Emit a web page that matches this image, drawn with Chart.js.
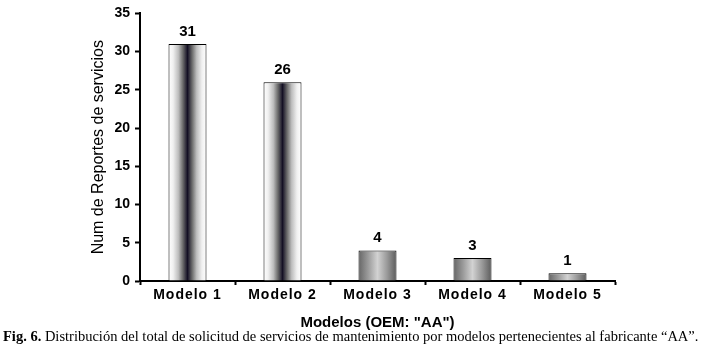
<!DOCTYPE html>
<html>
<head>
<meta charset="utf-8">
<script src="https://cdn.jsdelivr.net/npm/chart.js@4.4.1/dist/chart.umd.min.js"></script>
<style>
  html, body { margin: 0; padding: 0; background: #fff; }
  #wrap { position: relative; width: 704px; height: 353px; }
  #caption {
    position: absolute; left: 3px; top: 329px; white-space: nowrap;
    font: 14.5px "Times New Roman", "Liberation Serif", serif; color: #000; line-height: 15px;
  }
</style>
</head>
<body>
<div id="wrap">
  <canvas id="chart"></canvas>
  <div id="caption"><b>Fig. 6.</b> Distribución del total de solicitud de servicios de mantenimiento por modelos pertenecientes al fabricante “AA”.</div>
</div>
<script>
const categories = ["Modelo 1", "Modelo 2", "Modelo 3", "Modelo 4", "Modelo 5"];
const reportes = [31, 26, 4, 3, 1];
const yTicks = [0, 5, 10, 15, 20, 25, 30, 35];

// fill look per bar: dark centre stripe for the first two, light centre for the rest
const barLook = ["core", "core", "soft", "soft", "soft"];
const gradStops = {
  core: [[0, "#ffffff"], [0.12, "#f0f0f0"], [0.26, "#bdbdbd"], [0.38, "#6a6a6a"], [0.5, "#141024"],
         [0.62, "#6a6a6a"], [0.74, "#bdbdbd"], [0.88, "#f0f0f0"], [1, "#ffffff"]],
  soft: [[0, "#666666"], [0.25, "#9a9a9a"], [0.5, "#d2d2d2"], [0.75, "#9a9a9a"], [1, "#5c5c5c"]],
};
const BAR_FRACTION = 0.4;

Chart.defaults.font.family = "Arial, 'Liberation Sans', sans-serif";
Chart.defaults.color = "#000";

function barFill(context) {
  const chart = context.chart;
  const xs = chart.scales.x;
  if (!xs || context.type !== "data") return "#999";
  const i = context.dataIndex;
  const cx = xs.getPixelForValue(i);
  const half = (xs.width / categories.length) * BAR_FRACTION / 2;
  if (!isFinite(cx) || !isFinite(half) || half <= 0) return "#999";
  const g = chart.ctx.createLinearGradient(cx - half, 0, cx + half, 0);
  gradStops[barLook[i]].forEach(([o, c]) => g.addColorStop(o, c));
  return g;
}

// value labels on top of the bars + letter spacing for the category labels
const valueLabels = {
  id: "valueLabels",
  afterDatasetsDraw(chart) {
    const ctx = chart.ctx;
    const meta = chart.getDatasetMeta(0);
    ctx.save();
    ctx.font = "bold 15px Arial, 'Liberation Sans', sans-serif";
    ctx.fillStyle = "#000";
    ctx.textAlign = "center";
    ctx.textBaseline = "alphabetic";
    meta.data.forEach((bar, i) => {
      ctx.fillText(String(reportes[i]), bar.x, bar.y - 8);
    });
    ctx.restore();
    // x tick labels are drawn in a later layer (ticks.z = 1)
    ctx.letterSpacing = "1px";
  },
  afterDraw(chart) {
    chart.ctx.letterSpacing = "0px";
  },
};

new Chart(document.getElementById("chart"), {
  type: "bar",
  data: {
    labels: categories,
    datasets: [{
      data: reportes,
      backgroundColor: barFill,
      borderColor: "#000",
      borderWidth: 1,
      barPercentage: BAR_FRACTION,
      categoryPercentage: 1,
    }],
  },
  options: {
    responsive: true,
    maintainAspectRatio: false,
    animation: false,
    layout: { padding: { top: 10, right: 89, bottom: 0, left: 0 } },
    plugins: {
      legend: { display: false },
      tooltip: { enabled: false },
    },
    scales: {
      x: {
        afterFit: (s) => { s.height = 72; },
        border: { display: true, color: "#000", width: 2 },
        grid: { drawOnChartArea: false, drawTicks: true, tickLength: 4, tickColor: "#000", tickWidth: 2, offset: true },
        ticks: { z: 1, padding: 2, font: { size: 14, weight: "bold" }, color: "#000" },
        title: {
          display: true,
          text: 'Modelos (OEM: "AA")',
          font: { size: 15, weight: "bold", lineHeight: 1.2 },
          color: "#000",
          padding: { top: 0, bottom: 21 },
        },
      },
      y: {
        min: 0,
        max: 35,
        afterFit: (s) => { s.width = 140; },
        afterBuildTicks: (s) => { s.ticks = yTicks.map((v) => ({ value: v })); },
        border: { display: true, color: "#000", width: 2 },
        grid: { drawOnChartArea: false, drawTicks: true, tickLength: 5, tickColor: "#000", tickWidth: 2 },
        ticks: { padding: 5, font: { size: 14, weight: "bold" }, color: "#000" },
        title: {
          display: true,
          text: "Num de Reportes de servicios",
          font: { size: 16, lineHeight: 1.2 },
          color: "#000",
          padding: { top: 89, bottom: 0 },
        },
      },
    },
  },
  plugins: [valueLabels],
});
</script>
</body>
</html>
